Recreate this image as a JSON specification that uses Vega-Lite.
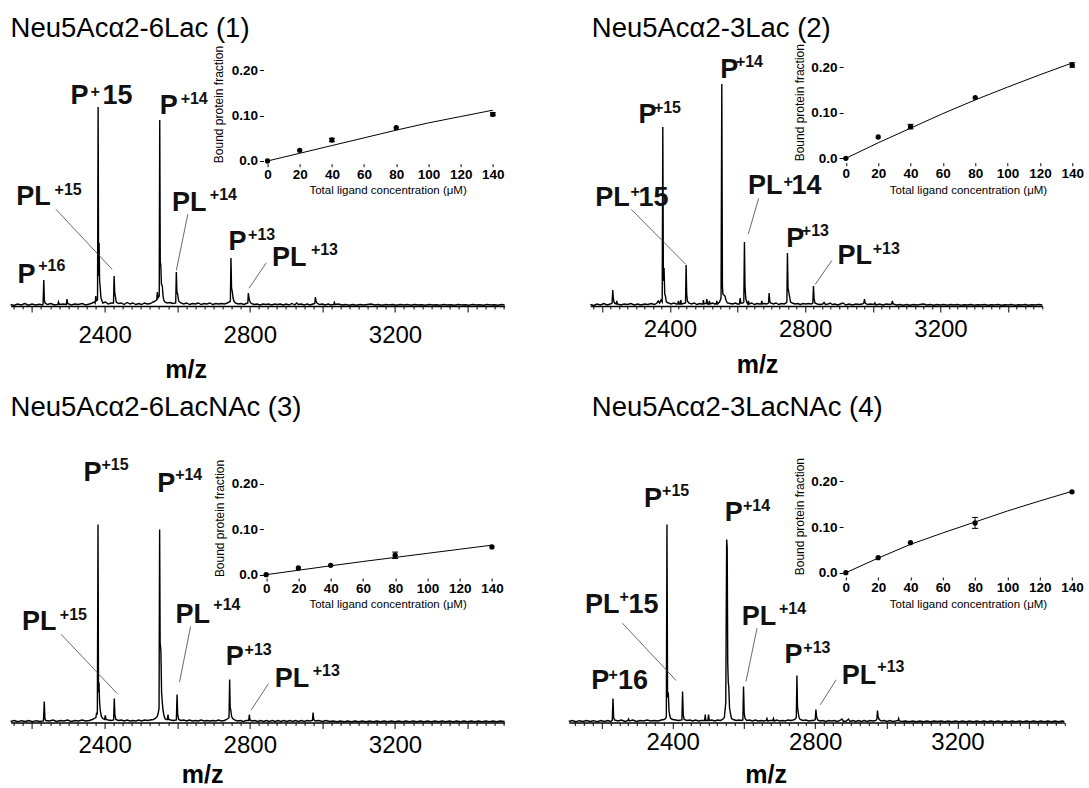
{
"$schema": "https://vega.github.io/schema/vega-lite/v6.json",
"padding": {"left": 7.6, "top": 14, "right": 0, "bottom": 0},
"config": {"view": {"stroke": null}, "font": "Liberation Sans", "axis": {"grid": false}},
"datasets": {
"s1": [{"mz":2141,"i":1.5},{"mz":2150,"i":0.5},{"mz":2160,"i":2},{"mz":2170,"i":1},{"mz":2180,"i":2.5},{"mz":2190,"i":0.8},{"mz":2200,"i":2},{"mz":2210,"i":1},{"mz":2220,"i":1.8},{"mz":2229,"i":1},{"mz":2230.5,"i":2},{"mz":2232.4,"i":26},{"mz":2234,"i":6},{"mz":2236,"i":3},{"mz":2242,"i":1.5},{"mz":2252,"i":2.5},{"mz":2262,"i":1},{"mz":2271,"i":1.5},{"mz":2273,"i":4},{"mz":2275,"i":1.5},{"mz":2285,"i":2},{"mz":2294.5,"i":1.5},{"mz":2296.4,"i":7},{"mz":2298,"i":2.5},{"mz":2308,"i":1},{"mz":2318,"i":2},{"mz":2328,"i":1.5},{"mz":2338,"i":2.5},{"mz":2348,"i":1},{"mz":2358,"i":2},{"mz":2366,"i":3},{"mz":2372,"i":4},{"mz":2374,"i":3},{"mz":2375.7,"i":10},{"mz":2377,"i":5},{"mz":2380.5,"i":6},{"mz":2382.1,"i":199},{"mz":2383.5,"i":30},{"mz":2384.8,"i":63},{"mz":2386.2,"i":25},{"mz":2388,"i":18},{"mz":2390,"i":8},{"mz":2392,"i":6},{"mz":2395,"i":3},{"mz":2402,"i":4},{"mz":2410,"i":2},{"mz":2418,"i":3},{"mz":2424.5,"i":3},{"mz":2426.2,"i":30},{"mz":2427.8,"i":14},{"mz":2429.5,"i":10},{"mz":2432,"i":4},{"mz":2438,"i":2.5},{"mz":2446,"i":3},{"mz":2454,"i":1.5},{"mz":2462,"i":3.5},{"mz":2470,"i":2},{"mz":2478,"i":3},{"mz":2486,"i":1.5},{"mz":2494,"i":2.5},{"mz":2502,"i":1.5},{"mz":2510,"i":3},{"mz":2518,"i":2},{"mz":2526,"i":2.5},{"mz":2534,"i":4},{"mz":2540,"i":5},{"mz":2543.5,"i":6},{"mz":2545.3,"i":14},{"mz":2547,"i":8},{"mz":2550.5,"i":10},{"mz":2551.9,"i":186},{"mz":2553.3,"i":45},{"mz":2554.9,"i":40},{"mz":2556.5,"i":22},{"mz":2559,"i":20},{"mz":2561,"i":10},{"mz":2563,"i":6},{"mz":2566,"i":4},{"mz":2572,"i":3},{"mz":2580,"i":3.5},{"mz":2588,"i":2.5},{"mz":2595.9,"i":3},{"mz":2597.6,"i":34},{"mz":2599.2,"i":14},{"mz":2601.2,"i":12},{"mz":2604,"i":5},{"mz":2610,"i":3},{"mz":2618,"i":2},{"mz":2626,"i":3},{"mz":2634,"i":1.5},{"mz":2642,"i":2.5},{"mz":2650,"i":2},{"mz":2658,"i":3},{"mz":2666,"i":1.5},{"mz":2674,"i":2.5},{"mz":2682,"i":2},{"mz":2690,"i":3},{"mz":2698,"i":1.5},{"mz":2706,"i":2.5},{"mz":2714,"i":2},{"mz":2722,"i":2.5},{"mz":2730,"i":2},{"mz":2738,"i":3},{"mz":2744,"i":4},{"mz":2746.5,"i":5},{"mz":2748.1,"i":48},{"mz":2749.7,"i":18},{"mz":2752,"i":14},{"mz":2754,"i":8},{"mz":2756,"i":5},{"mz":2760,"i":3},{"mz":2768,"i":2},{"mz":2776,"i":2.5},{"mz":2784,"i":1.5},{"mz":2790,"i":2.5},{"mz":2794.5,"i":3},{"mz":2796,"i":13},{"mz":2797.8,"i":8},{"mz":2799.7,"i":5},{"mz":2804,"i":2.5},{"mz":2812,"i":1.5},{"mz":2820,"i":2},{"mz":2828,"i":1},{"mz":2836,"i":2},{"mz":2844,"i":1.5},{"mz":2852,"i":2},{"mz":2860,"i":1},{"mz":2868,"i":2},{"mz":2876,"i":1.5},{"mz":2884,"i":2},{"mz":2892,"i":1},{"mz":2900,"i":2},{"mz":2908,"i":1},{"mz":2916,"i":2.5},{"mz":2924,"i":1},{"mz":2929,"i":3},{"mz":2934,"i":1.5},{"mz":2942,"i":2},{"mz":2950,"i":1},{"mz":2958,"i":2},{"mz":2966,"i":1},{"mz":2974,"i":2},{"mz":2979,"i":2.5},{"mz":2980.8,"i":9},{"mz":2982.5,"i":5},{"mz":2985,"i":3},{"mz":2992,"i":1.5},{"mz":3000,"i":2},{"mz":3008,"i":1},{"mz":3016,"i":2},{"mz":3024,"i":1},{"mz":3031.5,"i":1.5},{"mz":3033,"i":3.5},{"mz":3035,"i":1.5},{"mz":3044,"i":2},{"mz":3054,"i":1},{"mz":3064,"i":1.5},{"mz":3074,"i":0.8},{"mz":3084,"i":1.5},{"mz":3094,"i":0.8},{"mz":3104,"i":1.5},{"mz":3114,"i":1},{"mz":3124,"i":1.5},{"mz":3134,"i":2},{"mz":3144,"i":1},{"mz":3154,"i":1.5},{"mz":3164,"i":0.8},{"mz":3174,"i":1.5},{"mz":3184,"i":1},{"mz":3194,"i":1.5},{"mz":3204,"i":0.8},{"mz":3214,"i":1.5},{"mz":3224,"i":1},{"mz":3234,"i":1.5},{"mz":3244,"i":0.8},{"mz":3254,"i":1.5},{"mz":3264,"i":1},{"mz":3274,"i":1.2},{"mz":3284,"i":0.8},{"mz":3294,"i":1.5},{"mz":3304,"i":1},{"mz":3314,"i":1.2},{"mz":3324,"i":0.8},{"mz":3334,"i":1.5},{"mz":3344,"i":1},{"mz":3354,"i":1.2},{"mz":3364,"i":0.8},{"mz":3374,"i":1.5},{"mz":3384,"i":1},{"mz":3394,"i":1.2},{"mz":3404,"i":0.8},{"mz":3414,"i":1.5},{"mz":3424,"i":1},{"mz":3434,"i":1.2},{"mz":3444,"i":0.8},{"mz":3454,"i":1.5},{"mz":3464,"i":1},{"mz":3474,"i":1.2},{"mz":3484,"i":0.8},{"mz":3494,"i":1.5},{"mz":3502,"i":1}],
"s2": [{"mz":2165,"i":1.5},{"mz":2175,"i":0.5},{"mz":2185,"i":2},{"mz":2195,"i":1},{"mz":2205,"i":2.5},{"mz":2215,"i":1},{"mz":2224,"i":2},{"mz":2229.5,"i":3},{"mz":2231.4,"i":16},{"mz":2233,"i":8},{"mz":2235,"i":4},{"mz":2238,"i":2.5},{"mz":2241.5,"i":2},{"mz":2243.3,"i":5},{"mz":2245,"i":2},{"mz":2255,"i":1},{"mz":2265,"i":2},{"mz":2275,"i":1.5},{"mz":2285,"i":2.5},{"mz":2295,"i":1},{"mz":2305,"i":2},{"mz":2315,"i":1},{"mz":2325,"i":2},{"mz":2335,"i":1.5},{"mz":2345,"i":2.5},{"mz":2355,"i":1.5},{"mz":2362,"i":3},{"mz":2366,"i":5},{"mz":2370,"i":3},{"mz":2374,"i":6},{"mz":2377.5,"i":4},{"mz":2379.3,"i":179},{"mz":2381,"i":25},{"mz":2383,"i":38},{"mz":2385,"i":12},{"mz":2387,"i":10},{"mz":2390,"i":4},{"mz":2396,"i":3},{"mz":2404,"i":2},{"mz":2412,"i":3},{"mz":2419,"i":2},{"mz":2423.5,"i":2},{"mz":2425.4,"i":5},{"mz":2427.5,"i":2},{"mz":2430.5,"i":2},{"mz":2432.5,"i":6},{"mz":2434.5,"i":2},{"mz":2440,"i":2.5},{"mz":2446.5,"i":3},{"mz":2448.2,"i":41},{"mz":2450,"i":12},{"mz":2452,"i":5},{"mz":2456,"i":3},{"mz":2464,"i":2},{"mz":2472,"i":3},{"mz":2480,"i":1.5},{"mz":2488,"i":2.5},{"mz":2494,"i":2},{"mz":2497.5,"i":2},{"mz":2499.3,"i":6},{"mz":2501,"i":2},{"mz":2507.5,"i":2.5},{"mz":2509.4,"i":7},{"mz":2511.5,"i":2},{"mz":2515,"i":2},{"mz":2517,"i":5},{"mz":2519,"i":2},{"mz":2526,"i":3},{"mz":2533,"i":2},{"mz":2537,"i":2},{"mz":2538.9,"i":5},{"mz":2541,"i":2},{"mz":2547,"i":4},{"mz":2551.5,"i":8},{"mz":2553.7,"i":222},{"mz":2555.5,"i":20},{"mz":2557,"i":12},{"mz":2560,"i":11},{"mz":2563,"i":10},{"mz":2566,"i":6},{"mz":2570,"i":3},{"mz":2578,"i":2.5},{"mz":2586,"i":2},{"mz":2594,"i":3},{"mz":2600,"i":2},{"mz":2606,"i":2},{"mz":2607.9,"i":8},{"mz":2610,"i":3},{"mz":2616,"i":3},{"mz":2618.8,"i":4},{"mz":2620.6,"i":64},{"mz":2622.3,"i":20},{"mz":2624.5,"i":8},{"mz":2627,"i":4},{"mz":2630.5,"i":2},{"mz":2632.4,"i":5},{"mz":2634.5,"i":2},{"mz":2642,"i":3},{"mz":2650,"i":1.5},{"mz":2658,"i":2.5},{"mz":2665,"i":2},{"mz":2670,"i":2},{"mz":2672,"i":5},{"mz":2674,"i":2},{"mz":2680,"i":2.5},{"mz":2686,"i":2},{"mz":2691.8,"i":3},{"mz":2693.6,"i":13},{"mz":2695.5,"i":5},{"mz":2698,"i":3},{"mz":2706,"i":2},{"mz":2714,"i":3},{"mz":2722,"i":1.5},{"mz":2730,"i":2.5},{"mz":2738,"i":2},{"mz":2744,"i":3},{"mz":2746,"i":4},{"mz":2747.7,"i":53},{"mz":2749.5,"i":18},{"mz":2753.6,"i":10},{"mz":2757,"i":4},{"mz":2762,"i":3},{"mz":2770,"i":2},{"mz":2778,"i":2.5},{"mz":2786,"i":1.5},{"mz":2794,"i":2.5},{"mz":2802,"i":2},{"mz":2810,"i":2.5},{"mz":2818,"i":2},{"mz":2822.8,"i":3},{"mz":2824.6,"i":20},{"mz":2826.5,"i":7},{"mz":2829,"i":3},{"mz":2836,"i":2},{"mz":2844,"i":1.5},{"mz":2852,"i":2},{"mz":2856,"i":3.5},{"mz":2860,"i":1.5},{"mz":2868,"i":2},{"mz":2874,"i":3},{"mz":2880,"i":1.5},{"mz":2888,"i":2},{"mz":2896,"i":1},{"mz":2904,"i":2},{"mz":2912,"i":3},{"mz":2920,"i":1},{"mz":2930,"i":2},{"mz":2940,"i":1},{"mz":2950,"i":2},{"mz":2960,"i":1.5},{"mz":2969,"i":2},{"mz":2973.5,"i":3},{"mz":2975.4,"i":7},{"mz":2977.5,"i":3},{"mz":2984,"i":1.5},{"mz":2994,"i":2},{"mz":3004,"i":1.5},{"mz":3006,"i":3},{"mz":3010,"i":1},{"mz":3020,"i":2},{"mz":3030,"i":1},{"mz":3040,"i":2},{"mz":3050,"i":1.5},{"mz":3056,"i":2},{"mz":3057.9,"i":5},{"mz":3060,"i":2},{"mz":3070,"i":1},{"mz":3080,"i":1.5},{"mz":3090,"i":0.8},{"mz":3100,"i":1.5},{"mz":3110,"i":0.8},{"mz":3120,"i":1.5},{"mz":3130,"i":1},{"mz":3140,"i":1.5},{"mz":3150,"i":2},{"mz":3160,"i":1},{"mz":3170,"i":1.5},{"mz":3180,"i":0.8},{"mz":3190,"i":1.5},{"mz":3200,"i":1},{"mz":3210,"i":1.5},{"mz":3220,"i":0.8},{"mz":3230,"i":1.5},{"mz":3240,"i":1},{"mz":3250,"i":1.5},{"mz":3260,"i":0.8},{"mz":3270,"i":1.2},{"mz":3280,"i":1},{"mz":3290,"i":1.5},{"mz":3300,"i":0.8},{"mz":3310,"i":1.2},{"mz":3320,"i":1},{"mz":3330,"i":1.5},{"mz":3340,"i":0.8},{"mz":3350,"i":1.2},{"mz":3360,"i":1},{"mz":3370,"i":1.5},{"mz":3380,"i":0.8},{"mz":3390,"i":1.2},{"mz":3400,"i":1},{"mz":3410,"i":1.5},{"mz":3420,"i":0.8},{"mz":3430,"i":1.2},{"mz":3440,"i":1},{"mz":3450,"i":1.5},{"mz":3460,"i":0.8},{"mz":3470,"i":1.2},{"mz":3480,"i":1},{"mz":3490,"i":1.5},{"mz":3501,"i":1}],
"s3": [{"mz":2141,"i":1},{"mz":2151,"i":2},{"mz":2161,"i":0.8},{"mz":2171,"i":1.8},{"mz":2181,"i":1},{"mz":2191,"i":2},{"mz":2201,"i":0.8},{"mz":2211,"i":1.8},{"mz":2221,"i":1},{"mz":2231.5,"i":1.5},{"mz":2233.8,"i":21},{"mz":2235.5,"i":4},{"mz":2238,"i":2},{"mz":2248,"i":1.5},{"mz":2258,"i":2.5},{"mz":2268,"i":1},{"mz":2278,"i":2},{"mz":2288,"i":1.5},{"mz":2298,"i":2.5},{"mz":2308,"i":1},{"mz":2318,"i":2},{"mz":2328,"i":1.5},{"mz":2338,"i":2.5},{"mz":2348,"i":1.5},{"mz":2358,"i":2},{"mz":2366,"i":3},{"mz":2372,"i":4},{"mz":2376,"i":5},{"mz":2378,"i":10},{"mz":2380,"i":8},{"mz":2381.8,"i":198},{"mz":2383.2,"i":30},{"mz":2384.6,"i":40},{"mz":2386.2,"i":20},{"mz":2388,"i":12},{"mz":2391,"i":6},{"mz":2395,"i":4},{"mz":2400,"i":3},{"mz":2402,"i":7},{"mz":2404,"i":3},{"mz":2410,"i":2.5},{"mz":2418,"i":2},{"mz":2424.8,"i":2.5},{"mz":2426.7,"i":24},{"mz":2428.5,"i":7},{"mz":2431,"i":3},{"mz":2438,"i":2},{"mz":2446,"i":2.5},{"mz":2454,"i":1.5},{"mz":2462,"i":2.5},{"mz":2470,"i":1.5},{"mz":2478,"i":2},{"mz":2486,"i":1.5},{"mz":2494,"i":2.5},{"mz":2502,"i":1.5},{"mz":2510,"i":2.5},{"mz":2518,"i":2},{"mz":2526,"i":2.5},{"mz":2534,"i":3},{"mz":2540,"i":4},{"mz":2545,"i":6},{"mz":2548,"i":10},{"mz":2550,"i":14},{"mz":2551.6,"i":193},{"mz":2553,"i":80},{"mz":2555,"i":72},{"mz":2557,"i":30},{"mz":2559,"i":20},{"mz":2561,"i":12},{"mz":2563,"i":8},{"mz":2566,"i":4},{"mz":2570,"i":3},{"mz":2572.8,"i":3},{"mz":2574.7,"i":8},{"mz":2576.5,"i":3},{"mz":2582,"i":2.5},{"mz":2590,"i":2},{"mz":2597.7,"i":2.5},{"mz":2599.6,"i":28},{"mz":2601.4,"i":8},{"mz":2604,"i":3},{"mz":2610,"i":2},{"mz":2618,"i":2.5},{"mz":2626,"i":1.5},{"mz":2634,"i":2.5},{"mz":2642,"i":1.5},{"mz":2650,"i":2},{"mz":2658,"i":1.5},{"mz":2666,"i":2.5},{"mz":2674,"i":1.5},{"mz":2682,"i":2},{"mz":2690,"i":1.5},{"mz":2698,"i":2},{"mz":2706,"i":1.5},{"mz":2714,"i":2.5},{"mz":2722,"i":1.5},{"mz":2730,"i":2},{"mz":2736,"i":3},{"mz":2740,"i":4},{"mz":2742.8,"i":5},{"mz":2744.5,"i":43},{"mz":2746,"i":15},{"mz":2747.8,"i":12},{"mz":2750,"i":6},{"mz":2753,"i":4},{"mz":2758,"i":2.5},{"mz":2766,"i":1.5},{"mz":2774,"i":2},{"mz":2782,"i":1},{"mz":2790,"i":2},{"mz":2797,"i":2},{"mz":2798.8,"i":8},{"mz":2800.5,"i":2.5},{"mz":2806,"i":1.5},{"mz":2814,"i":2},{"mz":2822,"i":1},{"mz":2830,"i":2},{"mz":2838,"i":1},{"mz":2846,"i":2},{"mz":2854,"i":1},{"mz":2862,"i":2},{"mz":2870,"i":1},{"mz":2878,"i":2},{"mz":2886,"i":1},{"mz":2894,"i":2},{"mz":2902,"i":1},{"mz":2910,"i":2},{"mz":2918,"i":1},{"mz":2926,"i":2},{"mz":2934,"i":1},{"mz":2942,"i":2},{"mz":2950,"i":1},{"mz":2958,"i":2},{"mz":2966,"i":1.5},{"mz":2972.5,"i":2},{"mz":2974.4,"i":10},{"mz":2976,"i":3},{"mz":2980,"i":1.5},{"mz":2990,"i":2},{"mz":3000,"i":1},{"mz":3010,"i":2},{"mz":3020,"i":1},{"mz":3030,"i":1.5},{"mz":3040,"i":0.8},{"mz":3050,"i":1.5},{"mz":3060,"i":0.8},{"mz":3070,"i":1.5},{"mz":3080,"i":0.8},{"mz":3090,"i":1.5},{"mz":3100,"i":0.8},{"mz":3110,"i":1.5},{"mz":3120,"i":0.8},{"mz":3130,"i":1.5},{"mz":3140,"i":0.8},{"mz":3150,"i":1.5},{"mz":3160,"i":0.8},{"mz":3170,"i":1.5},{"mz":3180,"i":0.8},{"mz":3190,"i":1.5},{"mz":3200,"i":0.8},{"mz":3210,"i":1.5},{"mz":3220,"i":0.8},{"mz":3230,"i":1.5},{"mz":3240,"i":0.8},{"mz":3250,"i":1.5},{"mz":3260,"i":0.8},{"mz":3270,"i":1.5},{"mz":3280,"i":0.8},{"mz":3290,"i":1.5},{"mz":3300,"i":0.8},{"mz":3310,"i":1.5},{"mz":3320,"i":0.8},{"mz":3330,"i":1.5},{"mz":3340,"i":0.8},{"mz":3350,"i":1.5},{"mz":3360,"i":0.8},{"mz":3370,"i":1.5},{"mz":3380,"i":0.8},{"mz":3390,"i":1.5},{"mz":3400,"i":0.8},{"mz":3410,"i":1.5},{"mz":3420,"i":0.8},{"mz":3430,"i":1.5},{"mz":3440,"i":0.8},{"mz":3450,"i":1.5},{"mz":3460,"i":0.8},{"mz":3470,"i":1.5},{"mz":3480,"i":0.8},{"mz":3490,"i":1.5},{"mz":3502,"i":1}],
"s4": [{"mz":2108,"i":1},{"mz":2118,"i":2},{"mz":2128,"i":0.8},{"mz":2138,"i":1.8},{"mz":2148,"i":1},{"mz":2158,"i":2},{"mz":2168,"i":1},{"mz":2178,"i":1.8},{"mz":2188,"i":0.8},{"mz":2198,"i":2},{"mz":2208,"i":1},{"mz":2218,"i":2},{"mz":2226,"i":1},{"mz":2230,"i":2},{"mz":2232.2,"i":24},{"mz":2234,"i":5},{"mz":2236.5,"i":2.5},{"mz":2246,"i":1.5},{"mz":2256,"i":2.5},{"mz":2266,"i":1},{"mz":2274,"i":2},{"mz":2276,"i":3.5},{"mz":2278,"i":1.5},{"mz":2288,"i":2.5},{"mz":2298,"i":1},{"mz":2308,"i":2},{"mz":2318,"i":1.5},{"mz":2328,"i":2.5},{"mz":2338,"i":1.5},{"mz":2348,"i":2},{"mz":2358,"i":1.5},{"mz":2368,"i":2.5},{"mz":2376,"i":3},{"mz":2380,"i":4},{"mz":2382,"i":6},{"mz":2383.8,"i":198},{"mz":2385.5,"i":25},{"mz":2387.5,"i":30},{"mz":2389.5,"i":12},{"mz":2391,"i":8},{"mz":2394,"i":4},{"mz":2400,"i":3},{"mz":2408,"i":2.5},{"mz":2416,"i":2},{"mz":2425.8,"i":2.5},{"mz":2427.6,"i":31},{"mz":2429.5,"i":8},{"mz":2432,"i":3},{"mz":2440,"i":2},{"mz":2448,"i":2.5},{"mz":2456,"i":1.5},{"mz":2464,"i":2.5},{"mz":2472,"i":1.5},{"mz":2480,"i":2},{"mz":2489.5,"i":2},{"mz":2491.4,"i":8},{"mz":2493,"i":2},{"mz":2498.8,"i":2},{"mz":2500.6,"i":8},{"mz":2502.5,"i":2},{"mz":2510,"i":2.5},{"mz":2518,"i":1.5},{"mz":2526,"i":2.5},{"mz":2534,"i":2},{"mz":2540,"i":3},{"mz":2545,"i":5},{"mz":2549,"i":20},{"mz":2550.5,"i":120},{"mz":2551.5,"i":183},{"mz":2553,"i":175},{"mz":2554.5,"i":60},{"mz":2556,"i":40},{"mz":2557.4,"i":36},{"mz":2559.5,"i":15},{"mz":2561.6,"i":10},{"mz":2565,"i":4},{"mz":2570,"i":3},{"mz":2578,"i":2},{"mz":2586,"i":2.5},{"mz":2592,"i":2},{"mz":2597,"i":2.5},{"mz":2598.9,"i":36},{"mz":2600.7,"i":10},{"mz":2603,"i":4},{"mz":2608,"i":2},{"mz":2616,"i":2.5},{"mz":2624,"i":1.5},{"mz":2632,"i":2.5},{"mz":2640,"i":1.5},{"mz":2648,"i":2},{"mz":2656,"i":1.5},{"mz":2662.5,"i":2},{"mz":2664.6,"i":4},{"mz":2666.5,"i":1.5},{"mz":2674,"i":2},{"mz":2681,"i":2},{"mz":2683,"i":4},{"mz":2685,"i":1.5},{"mz":2692,"i":2.5},{"mz":2700,"i":1.5},{"mz":2708,"i":2},{"mz":2716,"i":1.5},{"mz":2724,"i":2.5},{"mz":2732,"i":2},{"mz":2738,"i":2.5},{"mz":2743,"i":3},{"mz":2747.2,"i":5},{"mz":2748.9,"i":47},{"mz":2750.5,"i":16},{"mz":2752.5,"i":10},{"mz":2755,"i":5},{"mz":2758,"i":3},{"mz":2766,"i":2},{"mz":2774,"i":2.5},{"mz":2782,"i":1.5},{"mz":2790,"i":2},{"mz":2796,"i":2},{"mz":2800.4,"i":3},{"mz":2802.2,"i":13},{"mz":2804,"i":6},{"mz":2807,"i":2.5},{"mz":2814,"i":1.5},{"mz":2822,"i":2},{"mz":2830,"i":1},{"mz":2838,"i":2},{"mz":2846,"i":1.5},{"mz":2854,"i":2},{"mz":2862,"i":1},{"mz":2870,"i":2},{"mz":2875.2,"i":3.5},{"mz":2880,"i":1},{"mz":2888,"i":1.5},{"mz":2893.8,"i":3.5},{"mz":2898,"i":1},{"mz":2906,"i":2},{"mz":2914,"i":1},{"mz":2922,"i":2},{"mz":2930,"i":1},{"mz":2938,"i":2},{"mz":2946,"i":1},{"mz":2954,"i":2},{"mz":2962,"i":1.5},{"mz":2970,"i":2},{"mz":2973.5,"i":3},{"mz":2975.2,"i":12},{"mz":2977,"i":6},{"mz":2980,"i":3},{"mz":2986,"i":1.5},{"mz":2994,"i":2},{"mz":3002,"i":1},{"mz":3010,"i":2},{"mz":3018,"i":1},{"mz":3026,"i":1.5},{"mz":3033,"i":2},{"mz":3034.7,"i":4},{"mz":3036.5,"i":1.5},{"mz":3044,"i":1},{"mz":3054,"i":1.5},{"mz":3064,"i":0.8},{"mz":3074,"i":1.5},{"mz":3084,"i":0.8},{"mz":3094,"i":1.5},{"mz":3104,"i":0.8},{"mz":3114,"i":1.5},{"mz":3124,"i":0.8},{"mz":3134,"i":1.5},{"mz":3144,"i":1},{"mz":3154,"i":1.5},{"mz":3164,"i":0.8},{"mz":3174,"i":1.5},{"mz":3184,"i":0.8},{"mz":3194,"i":1.5},{"mz":3204,"i":0.8},{"mz":3214,"i":1.5},{"mz":3224,"i":0.8},{"mz":3234,"i":1.5},{"mz":3244,"i":0.8},{"mz":3254,"i":1.5},{"mz":3264,"i":0.8},{"mz":3274,"i":1.5},{"mz":3284,"i":0.8},{"mz":3294,"i":1.5},{"mz":3304,"i":0.8},{"mz":3314,"i":1.5},{"mz":3324,"i":0.8},{"mz":3334,"i":1.5},{"mz":3344,"i":0.8},{"mz":3354,"i":1.5},{"mz":3364,"i":0.8},{"mz":3374,"i":1.5},{"mz":3384,"i":0.8},{"mz":3394,"i":1.5},{"mz":3404,"i":0.8},{"mz":3414,"i":1.5},{"mz":3424,"i":0.8},{"mz":3434,"i":1.5},{"mz":3444,"i":0.8},{"mz":3454,"i":1.5},{"mz":3464,"i":0.8},{"mz":3474,"i":1.5},{"mz":3484,"i":0.8},{"mz":3494,"i":1.5},{"mz":3500,"i":1}],
"l1": [{"mz":2311.5,"i":201.7,"t":"P","k":"m"},{"mz":2369.1,"i":208.6,"t":"+","k":"s"},{"mz":2399.7,"i":201.7,"t":"15","k":"m"},{"mz":2557.7,"i":191.7,"t":"P","k":"m"},{"mz":2617.7,"i":202,"t":"+14","k":"s"},{"mz":2162.4,"i":101,"t":"PL","k":"m"},{"mz":2270.5,"i":111,"t":"+15","k":"s"},{"mz":2591,"i":95,"t":"PL","k":"m"},{"mz":2698.2,"i":106,"t":"+14","k":"s"},{"mz":2747,"i":55.7,"t":"P","k":"m"},{"mz":2803.5,"i":65.7,"t":"+13","k":"s"},{"mz":2866.6,"i":40,"t":"PL","k":"m"},{"mz":2976.6,"i":51,"t":"+13","k":"s"},{"mz":2165.2,"i":23.3,"t":"P","k":"m"},{"mz":2225.5,"i":35,"t":"+16","k":"s"}],
"l2": [{"mz":2554.9,"i":227.7,"t":"P","k":"m"},{"mz":2604.2,"i":239,"t":"+14","k":"s"},{"mz":2313.7,"i":183.3,"t":"P","k":"m"},{"mz":2361.8,"i":193.3,"t":"+15","k":"s"},{"mz":2185.3,"i":100,"t":"PL","k":"m"},{"mz":2293,"i":108.6,"t":"+","k":"s"},{"mz":2313.7,"i":100,"t":"15","k":"m"},{"mz":2637.1,"i":111.7,"t":"PL","k":"m"},{"mz":2744.8,"i":119.3,"t":"+","k":"s"},{"mz":2765.5,"i":111.7,"t":"14","k":"m"},{"mz":2750.1,"i":59,"t":"P","k":"m"},{"mz":2799.2,"i":70,"t":"+13","k":"s"},{"mz":2901.8,"i":42.3,"t":"PL","k":"m"},{"mz":3008.8,"i":52.3,"t":"+13","k":"s"}],
"l3": [{"mz":2347.1,"i":241.2,"t":"P","k":"m"},{"mz":2399.7,"i":252.8,"t":"+15","k":"s"},{"mz":2550.8,"i":230.5,"t":"P","k":"m"},{"mz":2602.6,"i":242.2,"t":"+14","k":"s"},{"mz":2177.6,"i":92.2,"t":"PL","k":"m"},{"mz":2284.8,"i":102.8,"t":"+15","k":"s"},{"mz":2600.7,"i":99.5,"t":"PL","k":"m"},{"mz":2707.9,"i":112.2,"t":"+14","k":"s"},{"mz":2739.3,"i":57.2,"t":"P","k":"m"},{"mz":2793.9,"i":67.2,"t":"+13","k":"s"},{"mz":2874.4,"i":35.5,"t":"PL","k":"m"},{"mz":2981.6,"i":46.2,"t":"+13","k":"s"}],
"l4": [{"mz":2324.8,"i":215,"t":"P","k":"m"},{"mz":2378.5,"i":226,"t":"+15","k":"s"},{"mz":2552,"i":201,"t":"P","k":"m"},{"mz":2605.7,"i":211,"t":"+14","k":"s"},{"mz":2159.1,"i":109.3,"t":"PL","k":"m"},{"mz":2258.6,"i":120.3,"t":"+","k":"s"},{"mz":2281,"i":109.3,"t":"15","k":"m"},{"mz":2599.8,"i":97.7,"t":"PL","k":"m"},{"mz":2707,"i":108.7,"t":"+14","k":"s"},{"mz":2719.7,"i":59.3,"t":"P","k":"m"},{"mz":2775.3,"i":69.3,"t":"+13","k":"s"},{"mz":2880.6,"i":38.7,"t":"PL","k":"m"},{"mz":2983.1,"i":50,"t":"+13","k":"s"},{"mz":2176.6,"i":33.3,"t":"P","k":"m"},{"mz":2228,"i":42,"t":"+","k":"s"},{"mz":2252,"i":33.3,"t":"16","k":"m"}],
"k1": [{"mz":2265.8,"i":96.7,"mz2":2420.7,"i2":36.7},{"mz":2629.3,"i":91.7,"mz2":2597.6,"i2":35.7},{"mz":2845.7,"i":43.3,"mz2":2797.7,"i2":17.7}],
"k2": [{"mz":2285.9,"i":96.7,"mz2":2447,"i2":41.7},{"mz":2662.6,"i":107.7,"mz2":2631.8,"i2":71.7},{"mz":2879.3,"i":45.7,"mz2":2829.9,"i2":21.7}],
"k3": [{"mz":2280.1,"i":88.2,"mz2":2435,"i2":28.8},{"mz":2637,"i":96.2,"mz2":2606.4,"i2":40.5},{"mz":2851.2,"i":38.8,"mz2":2803.5,"i2":12.2}],
"k4": [{"mz":2258.6,"i":99.3,"mz2":2409.6,"i2":42},{"mz":2636.8,"i":94.3,"mz2":2605.7,"i2":41},{"mz":2859.2,"i":42.7,"mz2":2814.3,"i2":17.7}],
"d1": [{"c":0,"b":0},{"c":20,"b":0.0235},{"c":40,"b":0.0463,"lo":0.0425,"hi":0.05},{"c":80,"b":0.0735},{"c":140,"b":0.103,"lo":0.0995,"hi":0.1065}],
"d2": [{"c":0,"b":0},{"c":20,"b":0.0467},{"c":40,"b":0.0694,"lo":0.0645,"hi":0.0745},{"c":80,"b":0.133},{"c":140,"b":0.2044,"lo":0.1995,"hi":0.2095}],
"d3": [{"c":0,"b":0},{"c":20,"b":0.0147},{"c":40,"b":0.0206},{"c":80,"b":0.0428,"lo":0.0358,"hi":0.0498},{"c":140,"b":0.0612}],
"d4": [{"c":0,"b":0},{"c":20,"b":0.0328},{"c":40,"b":0.0656},{"c":80,"b":0.109,"lo":0.097,"hi":0.121},{"c":140,"b":0.177}],
"f1": [{"c":0,"b":0},{"c":20,"b":0.017},{"c":40,"b":0.034},{"c":60,"b":0.051},{"c":80,"b":0.068},{"c":100,"b":0.084},{"c":120,"b":0.098},{"c":140,"b":0.112}],
"f2": [{"c":0,"b":0},{"c":20,"b":0.034},{"c":40,"b":0.066},{"c":60,"b":0.098},{"c":80,"b":0.128},{"c":100,"b":0.156},{"c":120,"b":0.183},{"c":140,"b":0.209}],
"f3": [{"c":0,"b":0},{"c":20,"b":0.0098},{"c":40,"b":0.0195},{"c":60,"b":0.029},{"c":80,"b":0.038},{"c":100,"b":0.047},{"c":120,"b":0.056},{"c":140,"b":0.065}],
"f4": [{"c":0,"b":0},{"c":20,"b":0.032},{"c":40,"b":0.062},{"c":60,"b":0.087},{"c":80,"b":0.111},{"c":100,"b":0.135},{"c":120,"b":0.157},{"c":140,"b":0.178}]
},
"spacing": 12,
"vconcat": [
{"hconcat": [
{
"width": 494, "height": 265,
"title": {"text": "Neu5Acα2-6Lac (1)", "anchor": "start", "frame": "group", "font": "Liberation Sans", "fontSize": 27.5, "fontWeight": "normal", "color": "black", "offset": -1, "dx": 0},
"resolve": {"scale": {"x": "independent", "y": "independent"}, "axis": {"x": "independent", "y": "independent"}},
"layer": [
{"encoding": {
"x": {"field": "mz", "type": "quantitative", "scale": {"domain": [2141, 3502], "nice": false, "zero": false}, "axis": {"orient": "bottom", "values": [2150,2175,2200,2225,2250,2275,2300,2325,2350,2375,2400,2425,2450,2475,2500,2525,2550,2575,2600,2625,2650,2675,2700,2725,2750,2775,2800,2825,2850,2875,2900,2925,2950,2975,3000,3025,3050,3075,3100,3125,3150,3175,3200,3225,3250,3275,3300,3325,3350,3375,3400,3425,3450,3475,3500], "labelExpr": "datum.value % 400 === 0 ? format(datum.value, 'd') : ''", "tickSize": {"condition": {"test": "datum.value % 200 === 0", "value": 6}, "value": 3}, "tickColor": "black", "tickWidth": 1, "domainColor": "black", "domainWidth": 1.5, "labelFont": "Liberation Sans", "labelFontSize": 24, "labelColor": "black", "labelPadding": 30, "labelBaseline": "alphabetic", "labelOverlap": false, "labelFlush": false, "title": "m/z", "titleFont": "Liberation Sans", "titleFontSize": 25, "titleFontWeight": "bold", "titleColor": "black", "titleX": 175, "titleY": 71, "titleAlign": "center", "titleBaseline": "alphabetic", "grid": false}},
"y": {"field": "i", "type": "quantitative", "scale": {"domain": [0, 265], "nice": false, "zero": false}, "axis": null}},
"layer": [
{"data": {"name": "s1"}, "mark": {"type": "line", "color": "black", "strokeWidth": 1.4}},
{"data": {"name": "k1"}, "mark": {"type": "rule", "color": "#444444", "strokeWidth": 0.8}, "encoding": {"x2": {"field": "mz2"}, "y2": {"field": "i2"}}},
{"data": {"name": "l1"}, "transform": [{"filter": "datum.k === 'm'"}], "mark": {"type": "text", "align": "left", "baseline": "alphabetic", "font": "Liberation Sans", "fontWeight": "bold", "fontSize": 27, "color": "#111111", "dx": -2}, "encoding": {"text": {"field": "t"}}},
{"data": {"name": "l1"}, "transform": [{"filter": "datum.k === 's'"}], "mark": {"type": "text", "align": "left", "baseline": "alphabetic", "font": "Liberation Sans", "fontWeight": "bold", "fontSize": 16, "color": "#111111", "dx": -3}, "encoding": {"text": {"field": "t"}}}
]},
{"encoding": {
"x": {"field": "c", "type": "quantitative", "scale": {"domain": [-2.5, 142.1], "range": [252.9, 485.6], "nice": false, "zero": false}, "axis": {"orient": "bottom", "offset": -142.3, "values": [0,20,40,60,80,100,120,140], "format": "d", "domain": false, "tickSize": 3, "tickColor": "black", "labelFont": "Liberation Sans", "labelFontSize": 13.5, "labelFontWeight": "bold", "labelColor": "black", "labelPadding": 12, "labelBaseline": "alphabetic", "labelOverlap": false, "labelFlush": false, "title": "Total ligand concentration (μM)", "titleFont": "Liberation Sans", "titleFontSize": 11.5, "titleFontWeight": "normal", "titleColor": "black", "titleX": 377, "titleY": 30, "titleAlign": "center", "titleBaseline": "alphabetic", "grid": false}},
"y": {"field": "b", "type": "quantitative", "scale": {"domain": [-0.006, 0.2573], "range": [122.7, 3.3], "nice": false, "zero": false}, "axis": {"orient": "left", "offset": -252.9, "values": [0, 0.1, 0.2], "labelExpr": "datum.value === 0 ? '0.0' : format(datum.value, '.2f')", "domain": false, "tickSize": 4, "tickColor": "black", "labelFont": "Liberation Sans", "labelFontSize": 13.5, "labelFontWeight": "bold", "labelColor": "black", "labelPadding": 2, "labelOverlap": false, "labelFlush": false, "title": "Bound protein fraction", "titleFont": "Liberation Sans", "titleFontSize": 12, "titleFontWeight": "normal", "titleColor": "black", "titleX": -44.5, "titleBaseline": "middle", "grid": false}}},
"layer": [
{"data": {"values": [{}]}, "mark": {"type": "rect", "fillOpacity": 0, "stroke": "black", "strokeWidth": 1}, "encoding": {"x": {"datum": -2.5, "type": "quantitative"}, "x2": {"datum": 142.1}, "y": {"datum": -0.006, "type": "quantitative"}, "y2": {"datum": 0.2573}}},
{"data": {"name": "f1"}, "mark": {"type": "line", "color": "black", "strokeWidth": 1}},
{"data": {"name": "d1"}, "transform": [{"filter": "isValid(datum.lo)"}], "mark": {"type": "rule", "color": "black", "strokeWidth": 1}, "encoding": {"y": {"field": "lo", "type": "quantitative"}, "y2": {"field": "hi"}}},
{"data": {"name": "d1"}, "transform": [{"filter": "isValid(datum.lo)"}], "mark": {"type": "tick", "orient": "horizontal", "size": 6, "thickness": 1, "color": "black", "opacity": 1}, "encoding": {"y": {"field": "lo", "type": "quantitative"}}},
{"data": {"name": "d1"}, "transform": [{"filter": "isValid(datum.lo)"}], "mark": {"type": "tick", "orient": "horizontal", "size": 6, "thickness": 1, "color": "black", "opacity": 1}, "encoding": {"y": {"field": "hi", "type": "quantitative"}}},
{"data": {"name": "d1"}, "mark": {"type": "circle", "color": "black", "size": 28, "opacity": 1}}
]}
]
},
{
"width": 452, "height": 265,
"title": {"text": "Neu5Acα2-3Lac (2)", "anchor": "start", "frame": "group", "font": "Liberation Sans", "fontSize": 27.5, "fontWeight": "normal", "color": "black", "offset": -1, "dx": 1.5},
"resolve": {"scale": {"x": "independent", "y": "independent"}, "axis": {"x": "independent", "y": "independent"}},
"layer": [
{"encoding": {
"x": {"field": "mz", "type": "quantitative", "scale": {"domain": [2165, 3501], "nice": false, "zero": false}, "axis": {"orient": "bottom", "values": [2175,2200,2225,2250,2275,2300,2325,2350,2375,2400,2425,2450,2475,2500,2525,2550,2575,2600,2625,2650,2675,2700,2725,2750,2775,2800,2825,2850,2875,2900,2925,2950,2975,3000,3025,3050,3075,3100,3125,3150,3175,3200,3225,3250,3275,3300,3325,3350,3375,3400,3425,3450,3475,3500], "labelExpr": "datum.value % 400 === 0 ? format(datum.value, 'd') : ''", "tickSize": {"condition": {"test": "datum.value % 200 === 0", "value": 6}, "value": 3}, "tickColor": "black", "tickWidth": 1, "domainColor": "black", "domainWidth": 1.5, "labelFont": "Liberation Sans", "labelFontSize": 24, "labelColor": "black", "labelPadding": 24, "labelBaseline": "alphabetic", "labelOverlap": false, "labelFlush": false, "title": "m/z", "titleFont": "Liberation Sans", "titleFontSize": 25, "titleFontWeight": "bold", "titleColor": "black", "titleX": 166.7, "titleY": 66.7, "titleAlign": "center", "titleBaseline": "alphabetic", "grid": false}},
"y": {"field": "i", "type": "quantitative", "scale": {"domain": [0, 265], "nice": false, "zero": false}, "axis": null}},
"layer": [
{"data": {"name": "s2"}, "mark": {"type": "line", "color": "black", "strokeWidth": 1.4}},
{"data": {"name": "k2"}, "mark": {"type": "rule", "color": "#444444", "strokeWidth": 0.8}, "encoding": {"x2": {"field": "mz2"}, "y2": {"field": "i2"}}},
{"data": {"name": "l2"}, "transform": [{"filter": "datum.k === 'm'"}], "mark": {"type": "text", "align": "left", "baseline": "alphabetic", "font": "Liberation Sans", "fontWeight": "bold", "fontSize": 27, "color": "#111111", "dx": -2}, "encoding": {"text": {"field": "t"}}},
{"data": {"name": "l2"}, "transform": [{"filter": "datum.k === 's'"}], "mark": {"type": "text", "align": "left", "baseline": "alphabetic", "font": "Liberation Sans", "fontWeight": "bold", "fontSize": 16, "color": "#111111", "dx": -3}, "encoding": {"text": {"field": "t"}}}
]},
{"encoding": {
"x": {"field": "c", "type": "quantitative", "scale": {"domain": [-1.7, 142.2], "range": [252.8, 485.5], "nice": false, "zero": false}, "axis": {"orient": "bottom", "offset": -143.3, "values": [0,20,40,60,80,100,120,140], "format": "d", "domain": false, "tickSize": 3, "tickColor": "black", "labelFont": "Liberation Sans", "labelFontSize": 13.5, "labelFontWeight": "bold", "labelColor": "black", "labelPadding": 12, "labelBaseline": "alphabetic", "labelOverlap": false, "labelFlush": false, "title": "Total ligand concentration (μM)", "titleFont": "Liberation Sans", "titleFontSize": 11.5, "titleFontWeight": "normal", "titleColor": "black", "titleX": 377.7, "titleY": 31, "titleAlign": "center", "titleBaseline": "alphabetic", "grid": false}},
"y": {"field": "b", "type": "quantitative", "scale": {"domain": [-0.0096, 0.2555], "range": [121.7, 0.7], "nice": false, "zero": false}, "axis": {"orient": "left", "offset": -252.8, "values": [0, 0.1, 0.2], "labelExpr": "datum.value === 0 ? '0.0' : format(datum.value, '.2f')", "domain": false, "tickSize": 4, "tickColor": "black", "labelFont": "Liberation Sans", "labelFontSize": 13.5, "labelFontWeight": "bold", "labelColor": "black", "labelPadding": 2, "labelOverlap": false, "labelFlush": false, "title": "Bound protein fraction", "titleFont": "Liberation Sans", "titleFontSize": 12, "titleFontWeight": "normal", "titleColor": "black", "titleX": -43.4, "titleBaseline": "middle", "grid": false}}},
"layer": [
{"data": {"values": [{}]}, "mark": {"type": "rect", "fillOpacity": 0, "stroke": "black", "strokeWidth": 1}, "encoding": {"x": {"datum": -1.7, "type": "quantitative"}, "x2": {"datum": 142.2}, "y": {"datum": -0.0096, "type": "quantitative"}, "y2": {"datum": 0.2555}}},
{"data": {"name": "f2"}, "mark": {"type": "line", "color": "black", "strokeWidth": 1}},
{"data": {"name": "d2"}, "transform": [{"filter": "isValid(datum.lo)"}], "mark": {"type": "rule", "color": "black", "strokeWidth": 1}, "encoding": {"y": {"field": "lo", "type": "quantitative"}, "y2": {"field": "hi"}}},
{"data": {"name": "d2"}, "transform": [{"filter": "isValid(datum.lo)"}], "mark": {"type": "tick", "orient": "horizontal", "size": 6, "thickness": 1, "color": "black", "opacity": 1}, "encoding": {"y": {"field": "lo", "type": "quantitative"}}},
{"data": {"name": "d2"}, "transform": [{"filter": "isValid(datum.lo)"}], "mark": {"type": "tick", "orient": "horizontal", "size": 6, "thickness": 1, "color": "black", "opacity": 1}, "encoding": {"y": {"field": "hi", "type": "quantitative"}}},
{"data": {"name": "d2"}, "mark": {"type": "circle", "color": "black", "size": 28, "opacity": 1}}
]}
]
}
], "spacing": 85.7, "bounds": "flush"},
{"hconcat": [
{
"width": 494, "height": 268.5,
"title": {"text": "Neu5Acα2-6LacNAc (3)", "anchor": "start", "frame": "group", "font": "Liberation Sans", "fontSize": 27.5, "fontWeight": "normal", "color": "black", "offset": 32, "dx": 0},
"resolve": {"scale": {"x": "independent", "y": "independent"}, "axis": {"x": "independent", "y": "independent"}},
"layer": [
{"encoding": {
"x": {"field": "mz", "type": "quantitative", "scale": {"domain": [2141, 3502], "nice": false, "zero": false}, "axis": {"orient": "bottom", "values": [2150,2175,2200,2225,2250,2275,2300,2325,2350,2375,2400,2425,2450,2475,2500,2525,2550,2575,2600,2625,2650,2675,2700,2725,2750,2775,2800,2825,2850,2875,2900,2925,2950,2975,3000,3025,3050,3075,3100,3125,3150,3175,3200,3225,3250,3275,3300,3325,3350,3375,3400,3425,3450,3475,3500], "labelExpr": "datum.value % 400 === 0 ? format(datum.value, 'd') : ''", "tickSize": {"condition": {"test": "datum.value % 200 === 0", "value": 6}, "value": 3}, "tickColor": "black", "tickWidth": 1, "domainColor": "black", "domainWidth": 1.5, "labelFont": "Liberation Sans", "labelFontSize": 24, "labelColor": "black", "labelPadding": 24.5, "labelBaseline": "alphabetic", "labelOverlap": false, "labelFlush": false, "title": "m/z", "titleFont": "Liberation Sans", "titleFontSize": 25, "titleFontWeight": "bold", "titleColor": "black", "titleX": 191.6, "titleY": 60.5, "titleAlign": "center", "titleBaseline": "alphabetic", "grid": false}},
"y": {"field": "i", "type": "quantitative", "scale": {"domain": [0, 268.5], "nice": false, "zero": false}, "axis": null}},
"layer": [
{"data": {"name": "s3"}, "mark": {"type": "line", "color": "black", "strokeWidth": 1.4}},
{"data": {"name": "k3"}, "mark": {"type": "rule", "color": "#444444", "strokeWidth": 0.8}, "encoding": {"x2": {"field": "mz2"}, "y2": {"field": "i2"}}},
{"data": {"name": "l3"}, "transform": [{"filter": "datum.k === 'm'"}], "mark": {"type": "text", "align": "left", "baseline": "alphabetic", "font": "Liberation Sans", "fontWeight": "bold", "fontSize": 27, "color": "#111111", "dx": -2}, "encoding": {"text": {"field": "t"}}},
{"data": {"name": "l3"}, "transform": [{"filter": "datum.k === 's'"}], "mark": {"type": "text", "align": "left", "baseline": "alphabetic", "font": "Liberation Sans", "fontWeight": "bold", "fontSize": 16, "color": "#111111", "dx": -3}, "encoding": {"text": {"field": "t"}}}
]},
{"encoding": {
"x": {"field": "c", "type": "quantitative", "scale": {"domain": [-1.7, 142.1], "range": [252.8, 484.7], "nice": false, "zero": false}, "axis": {"orient": "bottom", "offset": -144.5, "values": [0,20,40,60,80,100,120,140], "format": "d", "domain": false, "tickSize": 3, "tickColor": "black", "labelFont": "Liberation Sans", "labelFontSize": 13.5, "labelFontWeight": "bold", "labelColor": "black", "labelPadding": 12, "labelBaseline": "alphabetic", "labelOverlap": false, "labelFlush": false, "title": "Total ligand concentration (μM)", "titleFont": "Liberation Sans", "titleFontSize": 11.5, "titleFontWeight": "normal", "titleColor": "black", "titleX": 377, "titleY": 30, "titleAlign": "center", "titleBaseline": "alphabetic", "grid": false}},
"y": {"field": "b", "type": "quantitative", "scale": {"domain": [-0.0073, 0.2569], "range": [124, 4], "nice": false, "zero": false}, "axis": {"orient": "left", "offset": -252.8, "values": [0, 0.1, 0.2], "labelExpr": "datum.value === 0 ? '0.0' : format(datum.value, '.2f')", "domain": false, "tickSize": 4, "tickColor": "black", "labelFont": "Liberation Sans", "labelFontSize": 13.5, "labelFontWeight": "bold", "labelColor": "black", "labelPadding": 2, "labelOverlap": false, "labelFlush": false, "title": "Bound protein fraction", "titleFont": "Liberation Sans", "titleFontSize": 12, "titleFontWeight": "normal", "titleColor": "black", "titleX": -43.8, "titleBaseline": "middle", "grid": false}}},
"layer": [
{"data": {"values": [{}]}, "mark": {"type": "rect", "fillOpacity": 0, "stroke": "black", "strokeWidth": 1}, "encoding": {"x": {"datum": -1.7, "type": "quantitative"}, "x2": {"datum": 142.1}, "y": {"datum": -0.0073, "type": "quantitative"}, "y2": {"datum": 0.2569}}},
{"data": {"name": "f3"}, "mark": {"type": "line", "color": "black", "strokeWidth": 1}},
{"data": {"name": "d3"}, "transform": [{"filter": "isValid(datum.lo)"}], "mark": {"type": "rule", "color": "black", "strokeWidth": 1}, "encoding": {"y": {"field": "lo", "type": "quantitative"}, "y2": {"field": "hi"}}},
{"data": {"name": "d3"}, "transform": [{"filter": "isValid(datum.lo)"}], "mark": {"type": "tick", "orient": "horizontal", "size": 6, "thickness": 1, "color": "black", "opacity": 1}, "encoding": {"y": {"field": "lo", "type": "quantitative"}}},
{"data": {"name": "d3"}, "transform": [{"filter": "isValid(datum.lo)"}], "mark": {"type": "tick", "orient": "horizontal", "size": 6, "thickness": 1, "color": "black", "opacity": 1}, "encoding": {"y": {"field": "hi", "type": "quantitative"}}},
{"data": {"name": "d3"}, "mark": {"type": "circle", "color": "black", "size": 28, "opacity": 1}}
]}
]
},
{
"width": 495.5, "height": 268.5,
"title": {"text": "Neu5Acα2-3LacNAc (4)", "anchor": "start", "frame": "group", "font": "Liberation Sans", "fontSize": 27.5, "fontWeight": "normal", "color": "black", "offset": 32, "dx": 23},
"resolve": {"scale": {"x": "independent", "y": "independent"}, "axis": {"x": "independent", "y": "independent"}},
"layer": [
{"encoding": {
"x": {"field": "mz", "type": "quantitative", "scale": {"domain": [2108, 3500], "nice": false, "zero": false}, "axis": {"orient": "bottom", "values": [2125,2150,2175,2200,2225,2250,2275,2300,2325,2350,2375,2400,2425,2450,2475,2500,2525,2550,2575,2600,2625,2650,2675,2700,2725,2750,2775,2800,2825,2850,2875,2900,2925,2950,2975,3000,3025,3050,3075,3100,3125,3150,3175,3200,3225,3250,3275,3300,3325,3350,3375,3400,3425,3450,3475,3500], "labelExpr": "datum.value % 400 === 0 ? format(datum.value, 'd') : ''", "tickSize": {"condition": {"test": "datum.value % 200 === 0", "value": 6}, "value": 3}, "tickColor": "black", "tickWidth": 1, "domainColor": "black", "domainWidth": 1.5, "labelFont": "Liberation Sans", "labelFontSize": 24, "labelColor": "black", "labelPadding": 21, "labelBaseline": "alphabetic", "labelOverlap": false, "labelFlush": false, "title": "m/z", "titleFont": "Liberation Sans", "titleFontSize": 25, "titleFontWeight": "bold", "titleColor": "black", "titleX": 196.9, "titleY": 60.5, "titleAlign": "center", "titleBaseline": "alphabetic", "grid": false}},
"y": {"field": "i", "type": "quantitative", "scale": {"domain": [0, 268.5], "nice": false, "zero": false}, "axis": null}},
"layer": [
{"data": {"name": "s4"}, "mark": {"type": "line", "color": "black", "strokeWidth": 1.4}},
{"data": {"name": "k4"}, "mark": {"type": "rule", "color": "#444444", "strokeWidth": 0.8}, "encoding": {"x2": {"field": "mz2"}, "y2": {"field": "i2"}}},
{"data": {"name": "l4"}, "transform": [{"filter": "datum.k === 'm'"}], "mark": {"type": "text", "align": "left", "baseline": "alphabetic", "font": "Liberation Sans", "fontWeight": "bold", "fontSize": 27, "color": "#111111", "dx": -2}, "encoding": {"text": {"field": "t"}}},
{"data": {"name": "l4"}, "transform": [{"filter": "datum.k === 's'"}], "mark": {"type": "text", "align": "left", "baseline": "alphabetic", "font": "Liberation Sans", "fontWeight": "bold", "fontSize": 16, "color": "#111111", "dx": -3}, "encoding": {"text": {"field": "t"}}}
]},
{"encoding": {
"x": {"field": "c", "type": "quantitative", "scale": {"domain": [-1.7, 142.1], "range": [274.3, 506.6], "nice": false, "zero": false}, "axis": {"orient": "bottom", "offset": -145.5, "values": [0,20,40,60,80,100,120,140], "format": "d", "domain": false, "tickSize": 3, "tickColor": "black", "labelFont": "Liberation Sans", "labelFontSize": 13.5, "labelFontWeight": "bold", "labelColor": "black", "labelPadding": 12, "labelBaseline": "alphabetic", "labelOverlap": false, "labelFlush": false, "title": "Total ligand concentration (μM)", "titleFont": "Liberation Sans", "titleFontSize": 11.5, "titleFontWeight": "normal", "titleColor": "black", "titleX": 399.2, "titleY": 31, "titleAlign": "center", "titleBaseline": "alphabetic", "grid": false}},
"y": {"field": "b", "type": "quantitative", "scale": {"domain": [-0.0094, 0.2569], "range": [123, 1.3], "nice": false, "zero": false}, "axis": {"orient": "left", "offset": -274.3, "values": [0, 0.1, 0.2], "labelExpr": "datum.value === 0 ? '0.0' : format(datum.value, '.2f')", "domain": false, "tickSize": 4, "tickColor": "black", "labelFont": "Liberation Sans", "labelFontSize": 13.5, "labelFontWeight": "bold", "labelColor": "black", "labelPadding": 2, "labelOverlap": false, "labelFlush": false, "title": "Bound protein fraction", "titleFont": "Liberation Sans", "titleFontSize": 12, "titleFontWeight": "normal", "titleColor": "black", "titleX": -43.4, "titleBaseline": "middle", "grid": false}}},
"layer": [
{"data": {"values": [{}]}, "mark": {"type": "rect", "fillOpacity": 0, "stroke": "black", "strokeWidth": 1}, "encoding": {"x": {"datum": -1.7, "type": "quantitative"}, "x2": {"datum": 142.1}, "y": {"datum": -0.0094, "type": "quantitative"}, "y2": {"datum": 0.2569}}},
{"data": {"name": "f4"}, "mark": {"type": "line", "color": "black", "strokeWidth": 1}},
{"data": {"name": "d4"}, "transform": [{"filter": "isValid(datum.lo)"}], "mark": {"type": "rule", "color": "black", "strokeWidth": 1}, "encoding": {"y": {"field": "lo", "type": "quantitative"}, "y2": {"field": "hi"}}},
{"data": {"name": "d4"}, "transform": [{"filter": "isValid(datum.lo)"}], "mark": {"type": "tick", "orient": "horizontal", "size": 6, "thickness": 1, "color": "black", "opacity": 1}, "encoding": {"y": {"field": "lo", "type": "quantitative"}}},
{"data": {"name": "d4"}, "transform": [{"filter": "isValid(datum.lo)"}], "mark": {"type": "tick", "orient": "horizontal", "size": 6, "thickness": 1, "color": "black", "opacity": 1}, "encoding": {"y": {"field": "hi", "type": "quantitative"}}},
{"data": {"name": "d4"}, "mark": {"type": "circle", "color": "black", "size": 28, "opacity": 1}}
]}
]
}
], "spacing": 64.2, "bounds": "flush"}
]
}
